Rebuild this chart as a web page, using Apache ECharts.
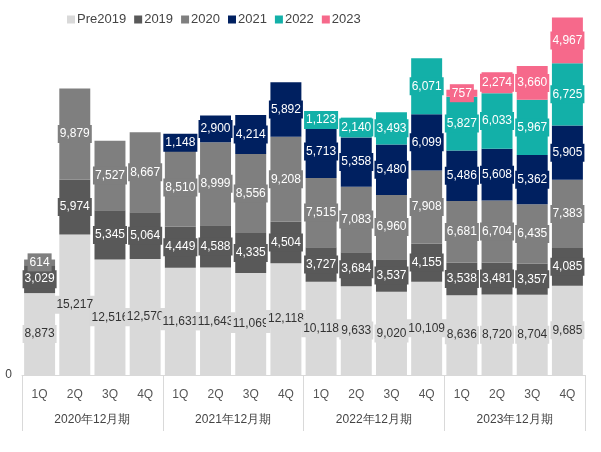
<!DOCTYPE html>
<html>
<head>
<meta charset="utf-8">
<script src="https://cdn.jsdelivr.net/npm/echarts@6/dist/echarts.min.js"></script>
<style>html,body{margin:0;padding:0;background:#fff}#chart-container{width:601px;height:452px}</style>
</head>
<body>
<div id="chart-container"></div>
<script>
var quarters = ['1Q','2Q','3Q','4Q','1Q','2Q','3Q','4Q','1Q','2Q','3Q','4Q','1Q','2Q','3Q','4Q'];
var years = ['2020年12月期','2021年12月期','2022年12月期','2023年12月期'];
var seriesNames = ['Pre2019','2019','2020','2021','2022','2023'];
var pre2019 = [8873,15217,12516,12570,11631,11643,11069,12118,10118,9633,9020,10109,8636,8720,8704,9685];
var y2019 = [3029,5974,5345,5064,4449,4588,4335,4504,3727,3684,3537,4155,3538,3481,3357,4085];
var y2020 = [614,9879,7527,8667,8510,8999,8556,9208,7515,7083,6960,7908,6681,6704,6435,7383];
var y2021 = [null,null,null,null,1148,2900,4214,5892,5713,5358,5480,6099,5486,5608,5362,5905];
var y2022 = [null,null,null,null,null,null,null,null,1123,2140,3493,6071,5827,6033,5967,6725];
var y2023 = [null,null,null,null,null,null,null,null,null,null,null,null,757,2274,3660,4967];

var values = [pre2019, y2019, y2020, y2021, y2022, y2023];
var colors = ['#d9d9d9','#595959','#7f7f7f','#002060','#13b0a8','#f6698b'];
var textColors = ['#333','#fff','#fff','#fff','#fff','#fff'];

var dom = document.getElementById('chart-container');
var myChart = echarts.init(dom, null, { renderer: 'canvas' });

var series = seriesNames.map(function (name, i) {
  return {
    name: name,
    type: 'bar',
    stack: 'total',
    barCategoryGap: '12%',
    itemStyle: { color: colors[i] },
    label: {
      show: true,
      position: 'inside',
      color: textColors[i],
      fontSize: 12,
      fontFamily: 'Liberation Sans',
      backgroundColor: colors[i],
      padding: [3, 2],
      formatter: function (p) { return p.value == null ? '' : p.value.toLocaleString('en-US'); }
    },
    data: values[i]
  };
});

var option = {
  animation: false,
  textStyle: { fontFamily: 'Liberation Sans' },
  legend: {
    left: 62,
    top: 8,
    itemWidth: 8,
    itemHeight: 8,
    itemGap: 8,
    icon: 'rect',
    textStyle: { color: '#444', fontSize: 13, padding: [0, 0, 0, -3] },
    data: seriesNames
  },
  grid: { left: 22, right: 16, top: 6, bottom: 77 },
  xAxis: [
    {
      type: 'category',
      data: quarters,
      axisLine: { lineStyle: { color: '#d9d9d9' } },
      axisTick: { show: false },
      axisLabel: { color: '#555', fontSize: 12, margin: 14 }
    },
    {
      type: 'category',
      data: years,
      position: 'bottom',
      axisLine: { show: false },
      axisTick: { show: true, length: 56, lineStyle: { color: '#d9d9d9' } },
      axisLabel: { color: '#444', fontSize: 12, margin: 39 }
    }
  ],
  yAxis: {
    type: 'value',
    min: 0,
    max: 40000,
    interval: 40000,
    splitLine: { show: false },
    axisLabel: {
      color: '#444',
      fontSize: 12,
      margin: 10,
      formatter: function (v) { return v === 0 ? '0' : ''; }
    }
  },
  series: series
};

myChart.setOption(option);
window.addEventListener('resize', myChart.resize);
</script>
</body>
</html>
